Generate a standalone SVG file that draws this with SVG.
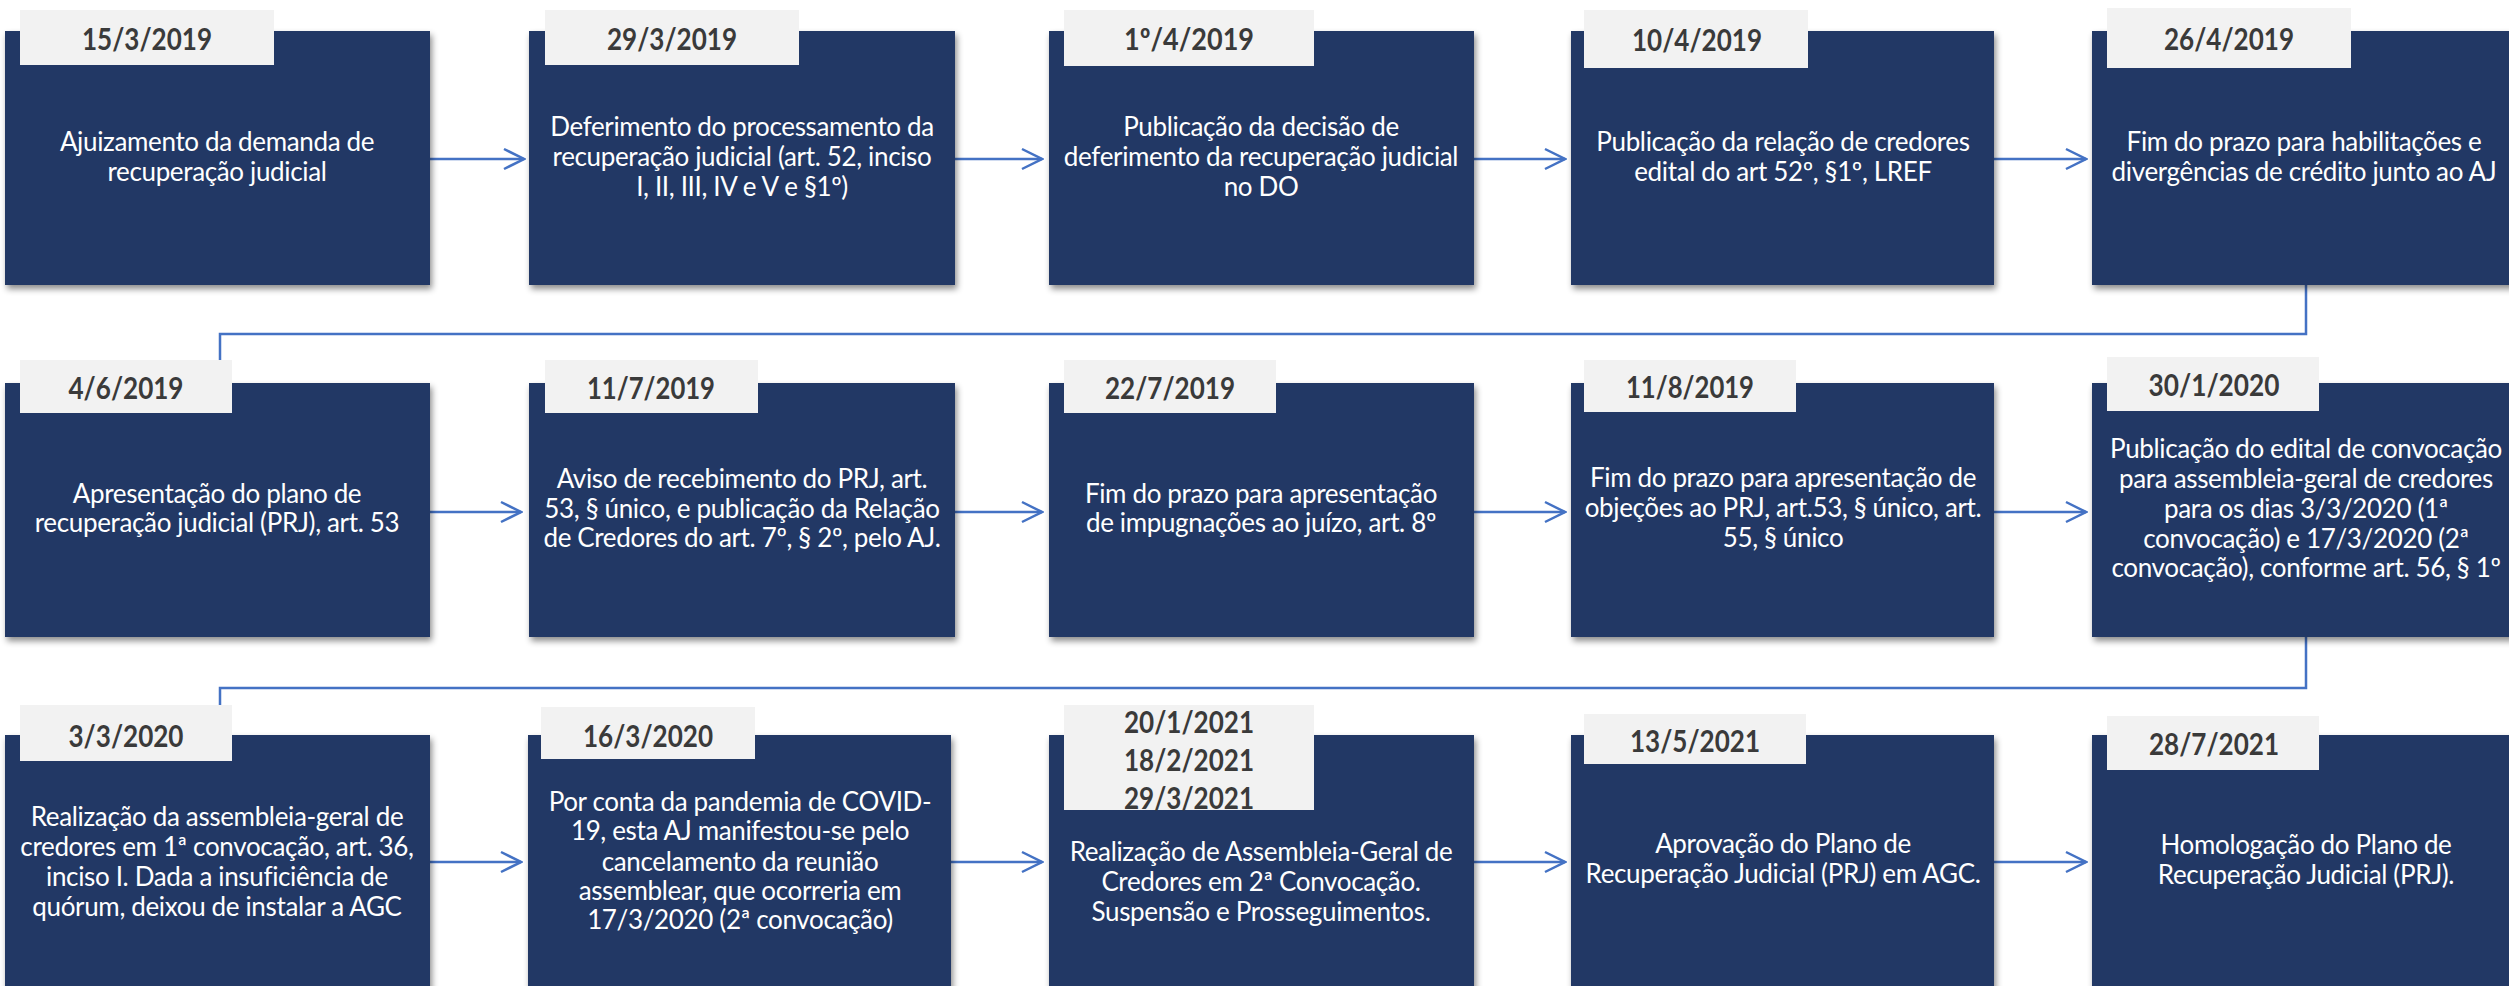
<svg xmlns="http://www.w3.org/2000/svg" width="2509" height="986" viewBox="0 0 2509 986">
<defs>
<filter id="sh" x="-5%" y="-5%" width="115%" height="120%">
<feDropShadow dx="2" dy="4" stdDeviation="3" flood-color="#000" flood-opacity="0.45"/>
</filter>
<marker id="ah" markerWidth="24" markerHeight="24" viewBox="-22 -12 24 24" refX="0" refY="0" orient="auto" markerUnits="userSpaceOnUse">
<path d="M-20,-10 L0,0 L-20,10" fill="none" stroke="#4472C4" stroke-width="2.5"/>
</marker>
</defs>
<style>
.box{fill:#223865;filter:url(#sh)}
.tab{fill:#F2F2F2}
.date{font-family:Lato,"Liberation Sans",sans-serif;font-weight:bold;font-size:30px;fill:#3A3A3A;text-anchor:middle}
.body{font-family:Lato,"Liberation Sans",sans-serif;font-size:26px;letter-spacing:-0.35px;fill:#FFFFFF;text-anchor:middle}
.con{fill:none;stroke:#4472C4;stroke-width:2.5}
</style>
<rect width="2509" height="986" fill="#FFFFFF"/>
<g id="connectors">
<path class="con" d="M430,159 H524" marker-end="url(#ah)"/>
<path class="con" d="M955,159 H1042" marker-end="url(#ah)"/>
<path class="con" d="M1474,159 H1565" marker-end="url(#ah)"/>
<path class="con" d="M1994,159 H2086" marker-end="url(#ah)"/>
<path class="con" d="M2306,285 V334 H220 V381" marker-end="url(#ah)"/>
<path class="con" d="M430,512 H521" marker-end="url(#ah)"/>
<path class="con" d="M955,512 H1042" marker-end="url(#ah)"/>
<path class="con" d="M1474,512 H1565" marker-end="url(#ah)"/>
<path class="con" d="M1994,512 H2086" marker-end="url(#ah)"/>
<path class="con" d="M2306,637 V688 H220 V733" marker-end="url(#ah)"/>
<path class="con" d="M430,862 H521" marker-end="url(#ah)"/>
<path class="con" d="M951,862 H1042" marker-end="url(#ah)"/>
<path class="con" d="M1474,862 H1565" marker-end="url(#ah)"/>
<path class="con" d="M1994,862 H2086" marker-end="url(#ah)"/>
</g>
<g id="n1">
<rect class="box" x="5" y="31" width="425" height="254"/>
<rect class="tab" x="20" y="10" width="254" height="55"/>
<text class="date" x="147" y="50" textLength="130" lengthAdjust="spacingAndGlyphs">15/3/2019</text>
<text class="body" x="217" y="151">Ajuizamento da demanda de</text>
<text class="body" x="217" y="181">recuperação judicial</text>
</g>
<g id="n2">
<rect class="box" x="529" y="31" width="426" height="254"/>
<rect class="tab" x="545" y="10" width="254" height="55"/>
<text class="date" x="672" y="50" textLength="130" lengthAdjust="spacingAndGlyphs">29/3/2019</text>
<text class="body" x="742" y="136">Deferimento do processamento da</text>
<text class="body" x="742" y="166">recuperação judicial (art. 52, inciso</text>
<text class="body" x="742" y="196">I, II, III, IV e V e §1º)</text>
</g>
<g id="n3">
<rect class="box" x="1049" y="31" width="425" height="254"/>
<rect class="tab" x="1064" y="10" width="250" height="56"/>
<text class="date" x="1189" y="50" textLength="130" lengthAdjust="spacingAndGlyphs">1º/4/2019</text>
<text class="body" x="1261" y="136">Publicação da decisão de</text>
<text class="body" x="1261" y="166">deferimento da recuperação judicial</text>
<text class="body" x="1261" y="196">no DO</text>
</g>
<g id="n4">
<rect class="box" x="1571" y="31" width="423" height="254"/>
<rect class="tab" x="1584" y="10" width="224" height="58"/>
<text class="date" x="1697" y="51" textLength="130" lengthAdjust="spacingAndGlyphs">10/4/2019</text>
<text class="body" x="1783" y="151">Publicação da relação de credores</text>
<text class="body" x="1783" y="181">edital do art 52º, §1º, LREF</text>
</g>
<g id="n5">
<rect class="box" x="2092" y="31" width="425" height="254"/>
<rect class="tab" x="2107" y="8" width="244" height="60"/>
<text class="date" x="2229" y="50" textLength="130" lengthAdjust="spacingAndGlyphs">26/4/2019</text>
<text class="body" x="2304" y="151">Fim do prazo para habilitações e</text>
<text class="body" x="2304" y="181">divergências de crédito junto ao AJ</text>
</g>
<g id="n6">
<rect class="box" x="5" y="383" width="425" height="254"/>
<rect class="tab" x="20" y="360" width="212" height="53"/>
<text class="date" x="126" y="399" textLength="115" lengthAdjust="spacingAndGlyphs">4/6/2019</text>
<text class="body" x="217" y="503">Apresentação do plano de</text>
<text class="body" x="217" y="532">recuperação judicial (PRJ), art. 53</text>
</g>
<g id="n7">
<rect class="box" x="529" y="383" width="426" height="254"/>
<rect class="tab" x="545" y="360" width="213" height="53"/>
<text class="date" x="651" y="399" textLength="128" lengthAdjust="spacingAndGlyphs">11/7/2019</text>
<text class="body" x="742" y="488">Aviso de recebimento do PRJ, art.</text>
<text class="body" x="742" y="518">53, § único, e publicação da Relação</text>
<text class="body" x="742" y="547">de Credores do art. 7º, § 2º, pelo AJ.</text>
</g>
<g id="n8">
<rect class="box" x="1049" y="383" width="425" height="254"/>
<rect class="tab" x="1064" y="360" width="212" height="53"/>
<text class="date" x="1170" y="399" textLength="130" lengthAdjust="spacingAndGlyphs">22/7/2019</text>
<text class="body" x="1261" y="503">Fim do prazo para apresentação</text>
<text class="body" x="1261" y="532">de impugnações ao juízo, art. 8º</text>
</g>
<g id="n9">
<rect class="box" x="1571" y="383" width="423" height="254"/>
<rect class="tab" x="1584" y="360" width="212" height="52"/>
<text class="date" x="1690" y="398" textLength="128" lengthAdjust="spacingAndGlyphs">11/8/2019</text>
<text class="body" x="1783" y="487">Fim do prazo para apresentação de</text>
<text class="body" x="1783" y="517">objeções ao PRJ, art.53, § único, art.</text>
<text class="body" x="1783" y="547">55, § único</text>
</g>
<g id="n10">
<rect class="box" x="2092" y="383" width="425" height="254"/>
<rect class="tab" x="2107" y="357" width="212" height="54"/>
<text class="date" x="2214" y="396" textLength="131" lengthAdjust="spacingAndGlyphs">30/1/2020</text>
<text class="body" x="2306" y="458">Publicação do edital de convocação</text>
<text class="body" x="2306" y="488">para assembleia-geral de credores</text>
<text class="body" x="2306" y="518">para os dias 3/3/2020 (1ª</text>
<text class="body" x="2306" y="548">convocação) e 17/3/2020 (2ª</text>
<text class="body" x="2306" y="577">convocação), conforme art. 56, § 1º</text>
</g>
<g id="n11">
<rect class="box" x="5" y="735" width="425" height="260"/>
<rect class="tab" x="20" y="705" width="212" height="56"/>
<text class="date" x="126" y="747" textLength="115" lengthAdjust="spacingAndGlyphs">3/3/2020</text>
<text class="body" x="217" y="826">Realização da assembleia-geral de</text>
<text class="body" x="217" y="856">credores em 1ª convocação, art. 36,</text>
<text class="body" x="217" y="886">inciso I. Dada a insuficiência de</text>
<text class="body" x="217" y="916">quórum, deixou de instalar a AGC</text>
</g>
<g id="n12">
<rect class="box" x="528" y="735" width="423" height="260"/>
<rect class="tab" x="541" y="707" width="214" height="52"/>
<text class="date" x="648" y="747" textLength="130" lengthAdjust="spacingAndGlyphs">16/3/2020</text>
<text class="body" x="740" y="811">Por conta da pandemia de COVID-</text>
<text class="body" x="740" y="840">19, esta AJ manifestou-se pelo</text>
<text class="body" x="740" y="871">cancelamento da reunião</text>
<text class="body" x="740" y="900">assemblear, que ocorreria em</text>
<text class="body" x="740" y="929">17/3/2020 (2ª convocação)</text>
</g>
<g id="n13">
<rect class="box" x="1049" y="735" width="425" height="260"/>
<rect class="tab" x="1064" y="705" width="250" height="105"/>
<text class="date" x="1189" y="733" textLength="130" lengthAdjust="spacingAndGlyphs">20/1/2021</text>
<text class="date" x="1189" y="771" textLength="130" lengthAdjust="spacingAndGlyphs">18/2/2021</text>
<text class="date" x="1189" y="809" textLength="130" lengthAdjust="spacingAndGlyphs">29/3/2021</text>
<text class="body" x="1261" y="861">Realização de Assembleia-Geral de</text>
<text class="body" x="1261" y="891">Credores em 2ª Convocação.</text>
<text class="body" x="1261" y="921">Suspensão e Prosseguimentos.</text>
</g>
<g id="n14">
<rect class="box" x="1571" y="735" width="423" height="260"/>
<rect class="tab" x="1584" y="714" width="222" height="50"/>
<text class="date" x="1695" y="752" textLength="130" lengthAdjust="spacingAndGlyphs">13/5/2021</text>
<text class="body" x="1783" y="853">Aprovação do Plano de</text>
<text class="body" x="1783" y="883">Recuperação Judicial (PRJ) em AGC.</text>
</g>
<g id="n15">
<rect class="box" x="2092" y="735" width="425" height="260"/>
<rect class="tab" x="2107" y="716" width="212" height="54"/>
<text class="date" x="2214" y="755" textLength="130" lengthAdjust="spacingAndGlyphs">28/7/2021</text>
<text class="body" x="2306" y="854">Homologação do Plano de</text>
<text class="body" x="2306" y="884">Recuperação Judicial (PRJ).</text>
</g>
</svg>
